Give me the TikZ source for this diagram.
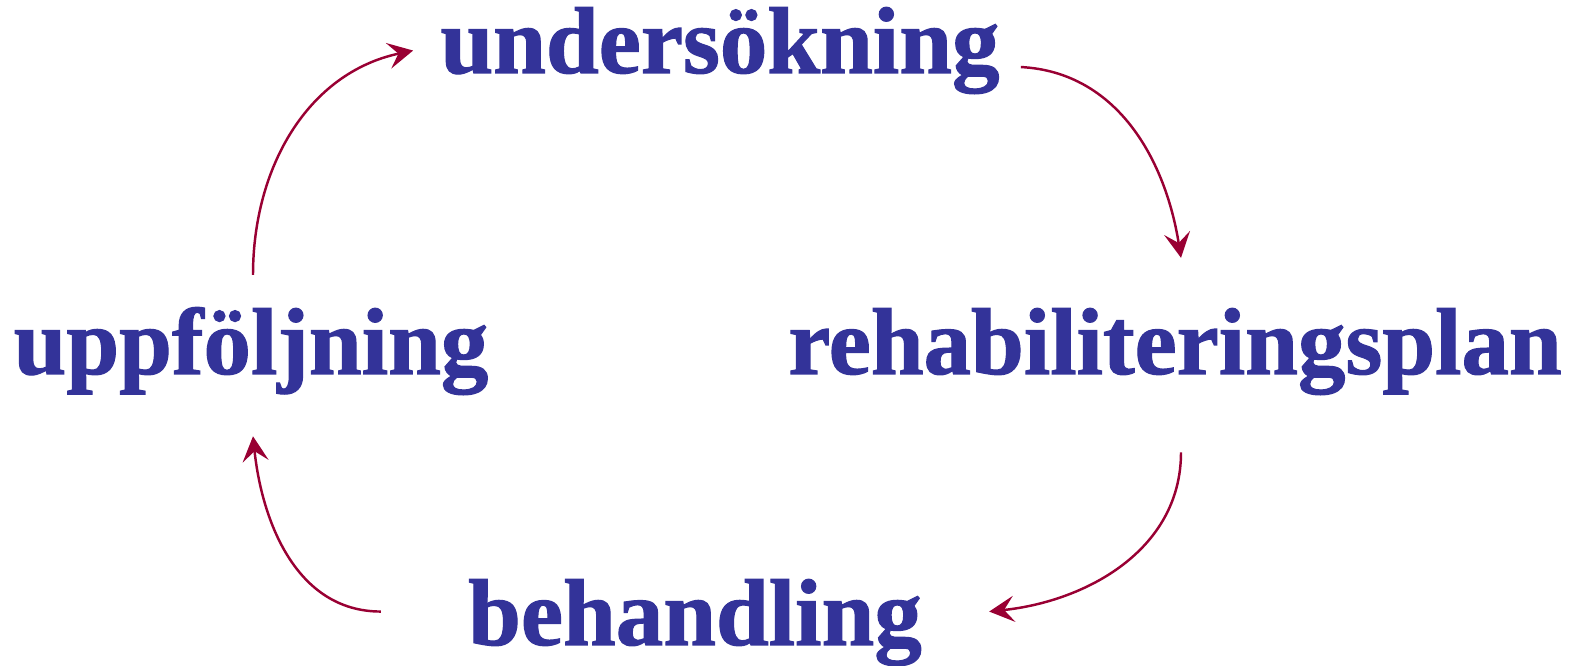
\documentclass[tikz,border=0pt]{standalone}
\usepackage{fontspec}
\setmainfont{Liberation Serif}[BoldFeatures={FakeBold=1.2}]
\usepackage{tikz}
\usetikzlibrary{arrows.meta,positioning}
\definecolor{phaseblue}{HTML}{333399}
\definecolor{loopred}{HTML}{990033}

\begin{document}
\begin{tikzpicture}[
  phase/.style={font=\fontsize{54}{60}\selectfont\bfseries,text=phaseblue,
    inner sep=0pt,anchor=base},
  loopflow/.style={-{Stealth[length=5mm,width=5.2mm,inset=2mm]},
    line width=1.4pt,draw=loopred}
]
  \useasboundingbox (0,0) rectangle (31.72,-13.32);

  \node[phase] (unders) at (14.40,-1.46) {undersökning};
  \node[phase] (rehab) at (23.50,-7.48) {rehabiliteringsplan};
  \node[phase] (behand) at (13.90,-12.90) {behandling};
  \node[phase] (uppfol) at (5.02,-7.48) {uppföljning};

  \draw[loopflow] ([shift={(0.04,0.64)}]uppfol.north)
    to[out=90,in=192] ([xshift=-0.54cm]unders.west);
  \draw[loopflow] ([shift={(0.42,-0.33)}]unders.east)
    to[out=-3,in=99] ([shift={(0.12,1.0)}]rehab.north);
  \draw[loopflow] ([shift={(0.12,-1.14)}]rehab.south)
    to[out=-90,in=6] ([shift={(1.34,0.22)}]behand.east);
  \draw[loopflow] ([shift={(-1.74,0.22)}]behand.west)
    to[out=180,in=-84] ([shift={(0.04,-0.82)}]uppfol.south);
\end{tikzpicture}
\end{document}
